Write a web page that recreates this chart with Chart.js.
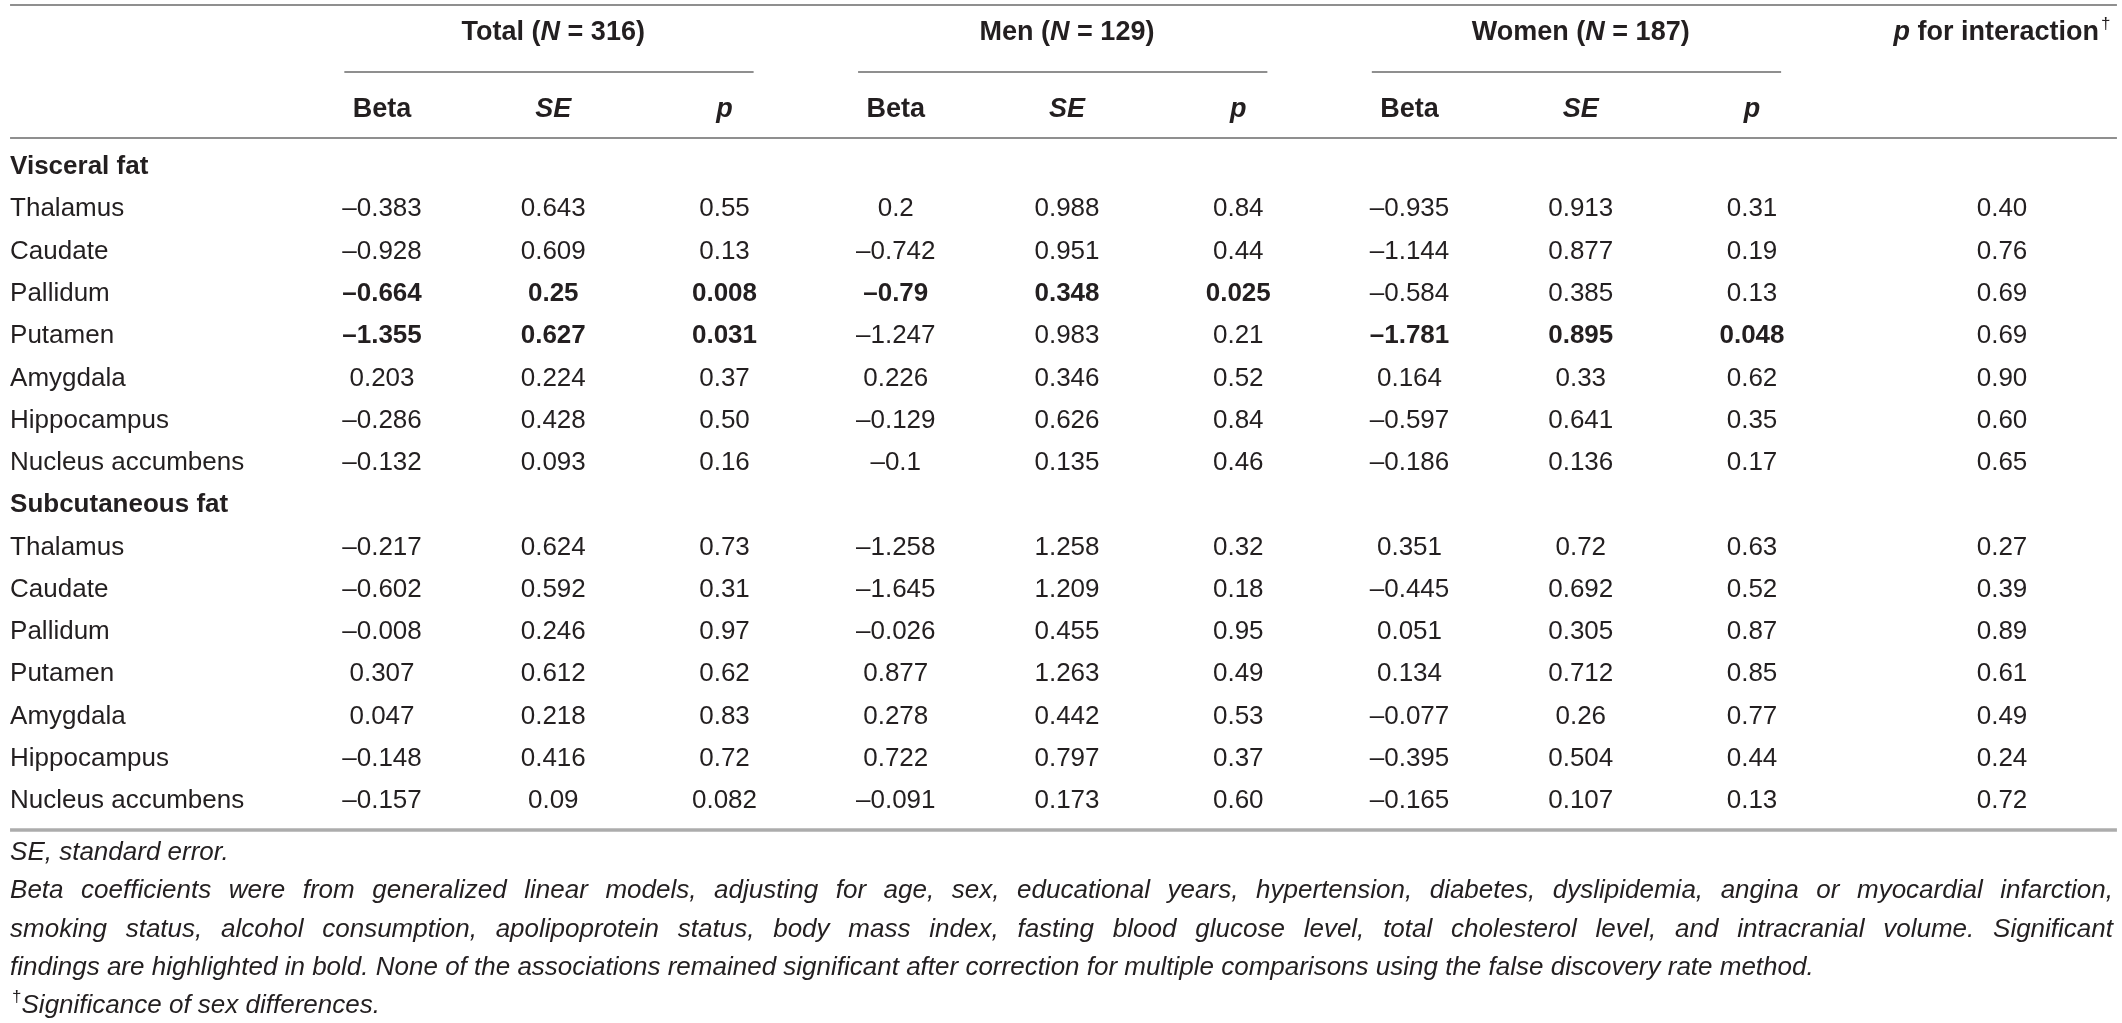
<!DOCTYPE html>
<html>
<head>
<meta charset="utf-8">
<script src="https://cdn.jsdelivr.net/npm/chart.js@4.4.0/dist/chart.umd.min.js"></script>
<style>
  html, body { margin: 0; padding: 0; background: #fff; }
  #wrap { width: 2122px; height: 1023px; }
</style>
</head>
<body>
<div id="wrap"><canvas id="tableChart" width="2122" height="1023"></canvas></div>
<script>
// ---- table content ----
const groups = ['Total', 'Men', 'Women'];
const groupN = [316, 129, 187];
const subHeads = ['Beta', 'SE', 'p'];
const fatTypes = ['Visceral fat', 'Subcutaneous fat'];
const regions = ['Thalamus', 'Caudate', 'Pallidum', 'Putamen', 'Amygdala', 'Hippocampus', 'Nucleus accumbens'];

// visceral fat
const visTotalBeta = [-0.383, -0.928, -0.664, -1.355, 0.203, -0.286, -0.132];
const visTotalSE = [0.643, 0.609, 0.25, 0.627, 0.224, 0.428, 0.093];
const visTotalP = [0.55, 0.13, 0.008, 0.031, 0.37, 0.50, 0.16];
const visMenBeta = [0.2, -0.742, -0.79, -1.247, 0.226, -0.129, -0.1];
const visMenSE = [0.988, 0.951, 0.348, 0.983, 0.346, 0.626, 0.135];
const visMenP = [0.84, 0.44, 0.025, 0.21, 0.52, 0.84, 0.46];
const visWomenBeta = [-0.935, -1.144, -0.584, -1.781, 0.164, -0.597, -0.186];
const visWomenSE = [0.913, 0.877, 0.385, 0.895, 0.33, 0.641, 0.136];
const visWomenP = [0.31, 0.19, 0.13, 0.048, 0.62, 0.35, 0.17];
const visInteractionP = [0.40, 0.76, 0.69, 0.69, 0.90, 0.60, 0.65];

// subcutaneous fat
const subTotalBeta = [-0.217, -0.602, -0.008, 0.307, 0.047, -0.148, -0.157];
const subTotalSE = [0.624, 0.592, 0.246, 0.612, 0.218, 0.416, 0.09];
const subTotalP = [0.73, 0.31, 0.97, 0.62, 0.83, 0.72, 0.082];
const subMenBeta = [-1.258, -1.645, -0.026, 0.877, 0.278, 0.722, -0.091];
const subMenSE = [1.258, 1.209, 0.455, 1.263, 0.442, 0.797, 0.173];
const subMenP = [0.32, 0.18, 0.95, 0.49, 0.53, 0.37, 0.60];
const subWomenBeta = [0.351, -0.445, 0.051, 0.134, -0.077, -0.395, -0.165];
const subWomenSE = [0.72, 0.692, 0.305, 0.712, 0.26, 0.504, 0.107];
const subWomenP = [0.63, 0.52, 0.87, 0.85, 0.77, 0.44, 0.13];
const subInteractionP = [0.27, 0.39, 0.89, 0.61, 0.49, 0.24, 0.72];

const footnotes = [
  'SE, standard error.',
  'Beta coefficients were from generalized linear models, adjusting for age, sex, educational years, hypertension, diabetes, dyslipidemia, angina or myocardial infarction,',
  'smoking status, alcohol consumption, apolipoprotein status, body mass index, fasting blood glucose level, total cholesterol level, and intracranial volume. Significant',
  'findings are highlighted in bold. None of the associations remained significant after correction for multiple comparisons using the false discovery rate method.',
  'Significance of sex differences.'
];

// ---- layout (scale units: x = column index, y = body row index) ----
const FONT = "'Liberation Sans', Arial, Helvetica, sans-serif";
const SIZE = 26;
const HEAD_SIZE = 27;
const INK = '#231f20';
const colX = [1, 2, 3, 4, 5, 6, 7, 8, 9, 10.46];
const ruleL = -1.172, ruleR = 11.131, textR = 11.108;
const yTopRule = -3.833, yGroup = -3.17, yUnder = -2.247, ySub = -1.348, yHeadRule = -0.686;
const yBottomRule = 15.685;
const footY = [16.229, 17.128, 18.051, 18.95, 19.849];

const blocks = [
  [[visTotalBeta, visTotalSE, visTotalP], [visMenBeta, visMenSE, visMenP], [visWomenBeta, visWomenSE, visWomenP], visInteractionP],
  [[subTotalBeta, subTotalSE, subTotalP], [subMenBeta, subMenSE, subMenP], [subWomenBeta, subWomenSE, subWomenP], subInteractionP]
];

const coef = v => String(v).replace('-', '\u2013');
const pval = v => v < 0.1 ? v.toFixed(3) : v.toFixed(2);

// build cells
const cells = [];
function cell(x, y, runs, align, extra) {
  cells.push(Object.assign({ x: x, y: y, runs: runs, align: align || 'center' }, extra || {}));
}

groups.forEach((g, gi) => {
  cell(colX[gi * 3 + 1], yGroup, [
    { t: g + ' (', w: 'bold', h: true }, { t: 'N', w: 'italic bold', h: true }, { t: ' = ' + groupN[gi] + ')', w: 'bold', h: true }
  ]);
  subHeads.forEach((s, si) => {
    cell(colX[gi * 3 + si], ySub, [{ t: s, w: si === 0 ? 'bold' : 'italic bold', h: true }]);
  });
});
cell(colX[9], yGroup, [{ t: 'p', w: 'italic bold', h: true }, { t: ' for interaction', w: 'bold', h: true }, { t: '\u2020', w: 'normal', sup: true }]);

fatTypes.forEach((ft, fi) => {
  const base = fi * 8;
  cell(ruleL, base, [{ t: ft, w: 'bold' }], 'left');
  const b = blocks[fi];
  regions.forEach((r, ri) => {
    const y = base + 1 + ri;
    cell(ruleL, y, [{ t: r, w: 'normal' }], 'left');
    for (let gi = 0; gi < 3; gi++) {
      const [beta, se, p] = b[gi];
      const w = p[ri] < 0.05 ? 'bold' : 'normal';
      cell(colX[gi * 3], y, [{ t: coef(beta[ri]), w: w }]);
      cell(colX[gi * 3 + 1], y, [{ t: coef(se[ri]), w: w }]);
      cell(colX[gi * 3 + 2], y, [{ t: pval(p[ri]), w: w }]);
    }
    cell(colX[9], y, [{ t: b[3][ri].toFixed(2), w: 'normal' }]);
  });
});

cell(ruleL, footY[0], [{ t: footnotes[0], w: 'italic' }], 'left');
cell(ruleL, footY[1], [{ t: footnotes[1], w: 'italic' }], 'left', { justify: true });
cell(ruleL, footY[2], [{ t: footnotes[2], w: 'italic' }], 'left', { justify: true });
cell(ruleL, footY[3], [{ t: footnotes[3], w: 'italic' }], 'left');
cell(ruleL, footY[4], [{ t: '\u2020', w: 'normal', sup: true }, { t: footnotes[4], w: 'italic' }], 'left');

// rules
function rule(x0, x1, y, width, color) {
  return {
    data: [{ x: x0, y: y }, { x: x1, y: y }],
    showLine: true, borderColor: color, borderWidth: width,
    pointRadius: 0, pointHoverRadius: 0
  };
}
const rules = [
  rule(ruleL, ruleR, yTopRule, 2, '#8f8f8f'),
  rule(ruleL, ruleR, yHeadRule, 2, '#8f8f8f'),
  rule(ruleL, ruleR, yBottomRule, 3.5, '#acacac')
];
groups.forEach((g, gi) => {
  const c = colX[gi * 3 + 1];
  rules.push(rule(c - 1.22, c + 1.17, yUnder, 2, '#8f8f8f'));
});

function runFont(r) {
  const size = r.sup ? 17 : (r.h ? HEAD_SIZE : SIZE);
  return r.w + ' ' + size + 'px ' + FONT;
}

const tableText = {
  id: 'tableText',
  afterDatasetsDraw(chart) {
    const ctx = chart.ctx;
    const meta = chart.getDatasetMeta(0);
    const ds = chart.data.datasets[0];
    const rightPx = chart.scales.x.getPixelForValue(textR);
    ctx.save();
    ctx.fillStyle = INK;
    ctx.textBaseline = 'middle';
    ctx.textAlign = 'left';
    meta.data.forEach((pt, i) => {
      const c = ds.data[i];
      const widths = c.runs.map(r => { ctx.font = runFont(r); return ctx.measureText(r.t).width + (r.sup ? 2 : 0); });
      const total = widths.reduce((a, b) => a + b, 0);
      let x = pt.x;
      if (c.align === 'center') x -= total / 2;
      if (c.justify) {
        // spread words over the full rule width
        ctx.font = runFont(c.runs[0]);
        const words = c.runs[0].t.split(' ');
        const gap = (rightPx - pt.x - words.reduce((a, w) => a + ctx.measureText(w).width, 0)) / (words.length - 1);
        words.forEach(w => { ctx.fillText(w, x, pt.y); x += ctx.measureText(w).width + gap; });
        return;
      }
      c.runs.forEach((r, k) => {
        ctx.font = runFont(r);
        ctx.fillText(r.t, r.sup ? x + 2 : x, r.sup ? pt.y - 9 : pt.y);
        x += widths[k];
      });
    });
    ctx.restore();
  }
};

new Chart(document.getElementById('tableChart'), {
  type: 'scatter',
  data: {
    datasets: [{ data: cells, pointRadius: 0, pointHoverRadius: 0 }].concat(rules)
  },
  options: {
    responsive: false,
    devicePixelRatio: 1,
    animation: false,
    layout: { padding: 0 },
    plugins: { legend: { display: false }, tooltip: { enabled: false } },
    scales: {
      x: { type: 'linear', display: false, min: -1.2307, max: 11.1606 },
      y: { type: 'linear', display: false, reverse: true, min: -3.951, max: 20.25 }
    }
  },
  plugins: [tableText]
});
</script>
</body>
</html>
